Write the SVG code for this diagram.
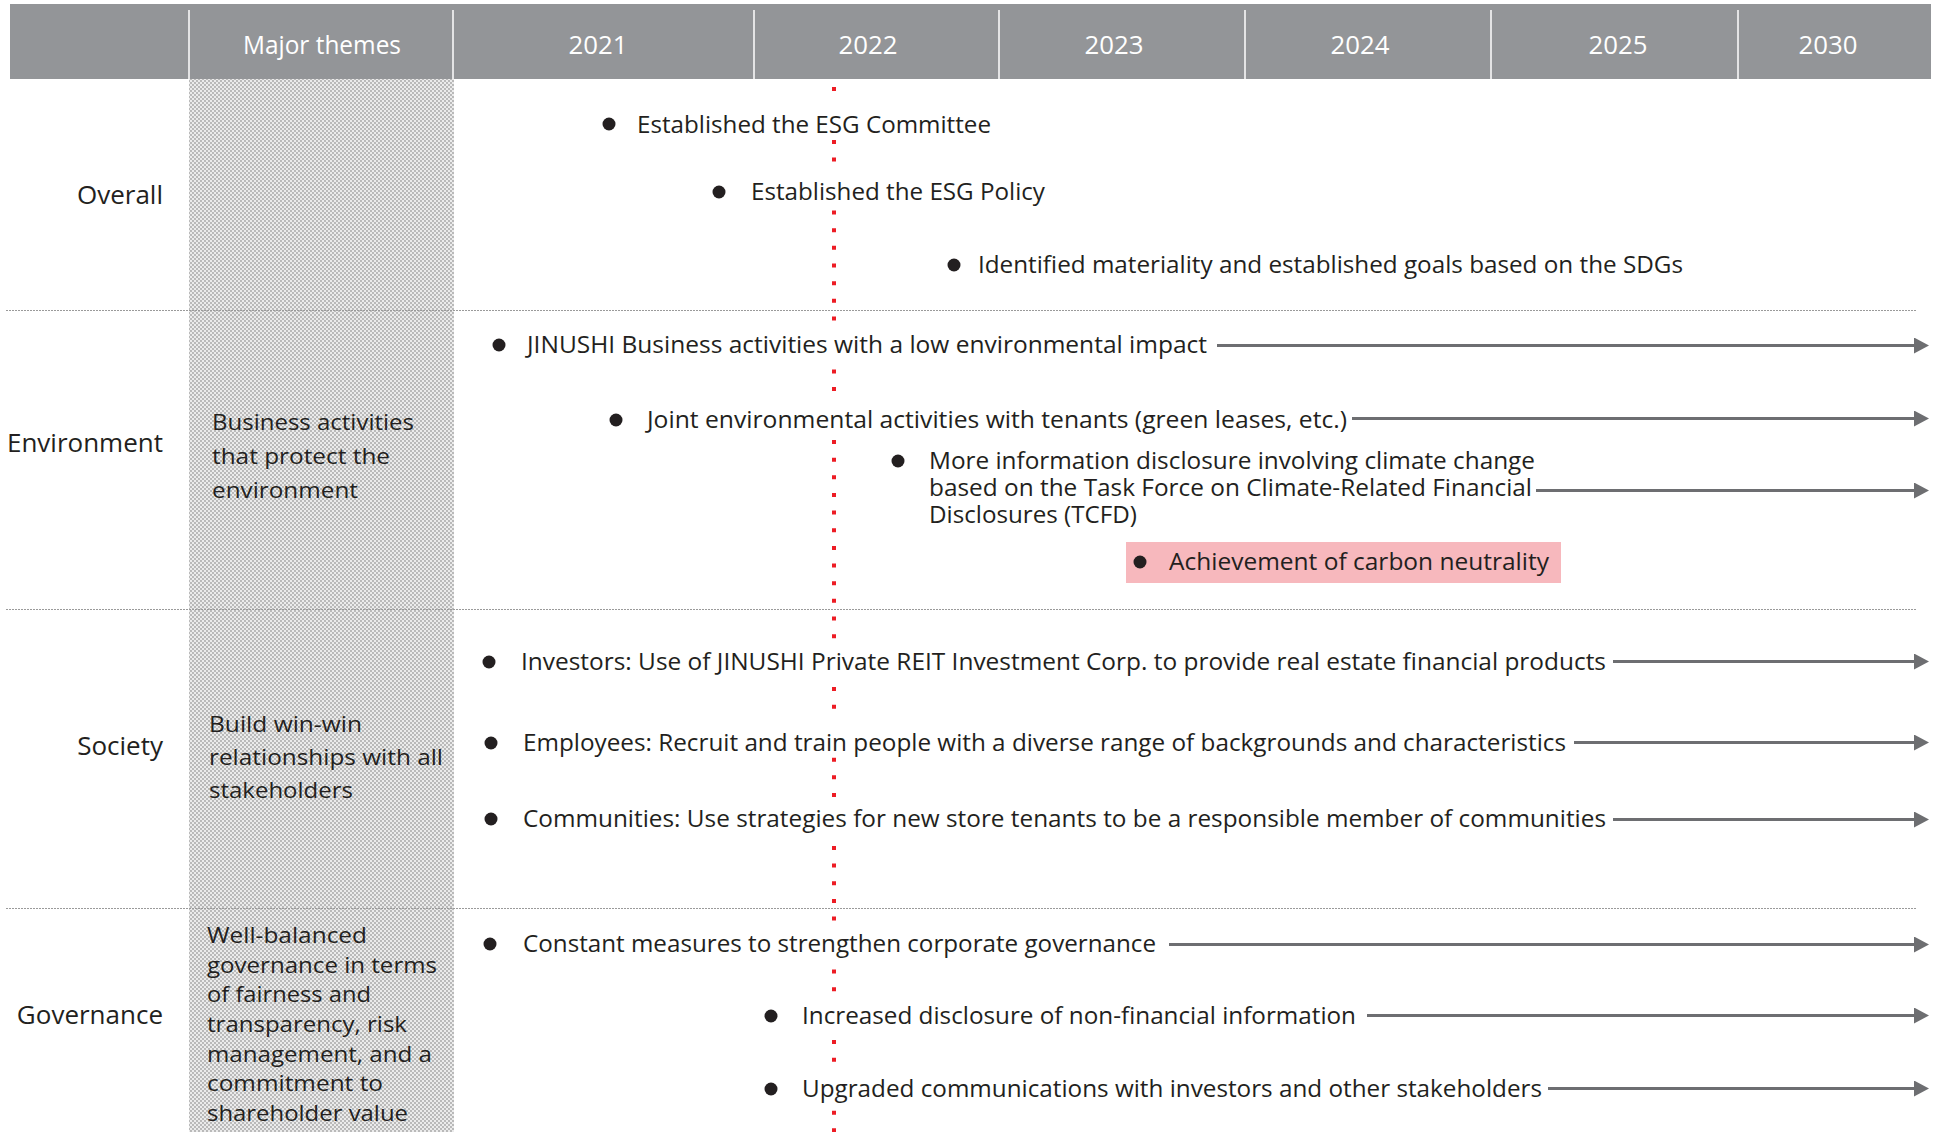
<svg xmlns="http://www.w3.org/2000/svg" width="1937" height="1132" viewBox="0 0 1937 1132">
<style>
.t{font-family:"Open Sans","Liberation Sans",sans-serif;fill:#231f20}
.main{font-size:23px}
.hdr{font-size:26px;fill:#ffffff;text-anchor:middle}
.row{font-size:26px;text-anchor:end}
.theme{font-size:22px}
.bul{fill:#231f20}
.mask{fill:#ffffff}
.arrow{stroke:#6d6e71;stroke-width:3;fill:none;marker-end:url(#ah)}
.sep{stroke:#9a9a9a;stroke-width:1;stroke-dasharray:2 1;fill:none}
.div{stroke:#ffffff;stroke-width:1.5}
</style>
<defs>
<pattern id="dots" x="0" y="0" width="4" height="4" patternUnits="userSpaceOnUse">
<rect width="4" height="4" fill="#ebebeb"/>
<circle cx="1" cy="1" r="0.9" fill="#a2a2a2"/>
<circle cx="3" cy="3" r="0.9" fill="#a2a2a2"/>
</pattern>
<marker id="ah" viewBox="0 -8 15 16" refX="0" refY="0" markerWidth="15" markerHeight="16" markerUnits="userSpaceOnUse" orient="auto">
<path d="M0,-8 L15,0 L0,8 Z" fill="#6d6e71"/>
</marker>
</defs>
<rect width="1937" height="1132" fill="#ffffff"/>

<!-- theme column background -->
<rect x="189" y="79" width="265" height="1053" fill="url(#dots)"/>

<!-- header -->
<g id="header">
<rect x="10" y="4" width="1921" height="75" fill="#939598"/>
<line class="div" x1="189" y1="10" x2="189" y2="79"/>
<line class="div" x1="453" y1="10" x2="453" y2="79"/>
<line class="div" x1="754" y1="10" x2="754" y2="79"/>
<line class="div" x1="999" y1="10" x2="999" y2="79"/>
<line class="div" x1="1245" y1="10" x2="1245" y2="79"/>
<line class="div" x1="1491" y1="10" x2="1491" y2="79"/>
<line class="div" x1="1738" y1="10" x2="1738" y2="79"/>
<text class="t hdr" x="322" y="54" textLength="158" lengthAdjust="spacingAndGlyphs">Major themes</text>
<text class="t hdr" x="598" y="54" textLength="59" lengthAdjust="spacingAndGlyphs">2021</text>
<text class="t hdr" x="868" y="54" textLength="59" lengthAdjust="spacingAndGlyphs">2022</text>
<text class="t hdr" x="1114" y="54" textLength="59" lengthAdjust="spacingAndGlyphs">2023</text>
<text class="t hdr" x="1360" y="54" textLength="59" lengthAdjust="spacingAndGlyphs">2024</text>
<text class="t hdr" x="1618" y="54" textLength="59" lengthAdjust="spacingAndGlyphs">2025</text>
<text class="t hdr" x="1828" y="54" textLength="59" lengthAdjust="spacingAndGlyphs">2030</text>
</g>

<!-- row separators -->
<g id="separators">
<line class="sep" x1="6" y1="310.5" x2="1916" y2="310.5"/>
<line class="sep" x1="6" y1="609.5" x2="1916" y2="609.5"/>
<line class="sep" x1="6" y1="908.5" x2="1916" y2="908.5"/>
</g>

<!-- row labels -->
<g id="row-overall"><text class="t row" x="163" y="204">Overall</text></g>
<g id="row-environment"><text class="t row" x="163" y="452">Environment</text></g>
<g id="row-society"><text class="t row" x="163" y="755">Society</text></g>
<g id="row-governance"><text class="t row" x="163" y="1024">Governance</text></g>

<!-- themes -->
<g id="theme-environment" class="t theme">
<text x="212" y="430" textLength="202" lengthAdjust="spacingAndGlyphs">Business activities</text>
<text x="212" y="464" textLength="178" lengthAdjust="spacingAndGlyphs">that protect the</text>
<text x="212" y="498" textLength="146" lengthAdjust="spacingAndGlyphs">environment</text>
</g>
<g id="theme-society" class="t theme">
<text x="209" y="732" textLength="153" lengthAdjust="spacingAndGlyphs">Build win-win</text>
<text x="209" y="765" textLength="234" lengthAdjust="spacingAndGlyphs">relationships with all</text>
<text x="209" y="798" textLength="144" lengthAdjust="spacingAndGlyphs">stakeholders</text>
</g>
<g id="theme-governance" class="t theme">
<text x="207" y="943" textLength="160" lengthAdjust="spacingAndGlyphs">Well-balanced</text>
<text x="207" y="973" textLength="230" lengthAdjust="spacingAndGlyphs">governance in terms</text>
<text x="207" y="1002" textLength="164" lengthAdjust="spacingAndGlyphs">of fairness and</text>
<text x="207" y="1032" textLength="200" lengthAdjust="spacingAndGlyphs">transparency, risk</text>
<text x="207" y="1062" textLength="225" lengthAdjust="spacingAndGlyphs">management, and a</text>
<text x="207" y="1091" textLength="176" lengthAdjust="spacingAndGlyphs">commitment to</text>
<text x="207" y="1121" textLength="201" lengthAdjust="spacingAndGlyphs">shareholder value</text>
</g>

<!-- 2022 timeline marker -->
<g id="timeline">
<line x1="834" y1="87" x2="834" y2="1132" stroke="#ed1c24" stroke-width="4" stroke-dasharray="4 13.65"/>
</g>

<!-- connectors -->
<g id="connectors">
<line class="arrow" x1="1217" y1="345.5" x2="1914" y2="345.5"/>
<line class="arrow" x1="1349" y1="418.5" x2="1914" y2="418.5"/>
<line class="arrow" x1="1536" y1="490.5" x2="1914" y2="490.5"/>
<line class="arrow" x1="1613" y1="661.5" x2="1914" y2="661.5"/>
<line class="arrow" x1="1574" y1="742.5" x2="1914" y2="742.5"/>
<line class="arrow" x1="1613" y1="819.5" x2="1914" y2="819.5"/>
<line class="arrow" x1="1169" y1="944.5" x2="1914" y2="944.5"/>
<line class="arrow" x1="1367" y1="1015.5" x2="1914" y2="1015.5"/>
<line class="arrow" x1="1548" y1="1088.5" x2="1914" y2="1088.5"/>
</g>

<!-- items -->
<g id="item-esg-committee">
<rect class="mask" x="630" y="104" width="365" height="35"/>
<circle class="bul" cx="609" cy="124" r="6.5"/>
<text class="t main" x="637" y="133" textLength="354" lengthAdjust="spacingAndGlyphs">Established the ESG Committee</text>
</g>
<g id="item-esg-policy">
<rect class="mask" x="745" y="171" width="304" height="35"/>
<circle class="bul" cx="719" cy="192" r="6.5"/>
<text class="t main" x="751" y="200" textLength="294" lengthAdjust="spacingAndGlyphs">Established the ESG Policy</text>
</g>
<g id="item-materiality">
<circle class="bul" cx="954" cy="265" r="6.5"/>
<text class="t main" x="978" y="273" textLength="705" lengthAdjust="spacingAndGlyphs">Identified materiality and established goals based on the SDGs</text>
</g>
<g id="item-low-impact">
<rect class="mask" x="520" y="324" width="692" height="35"/>
<circle class="bul" cx="499" cy="345" r="6.5"/>
<text class="t main" x="527" y="353" textLength="680" lengthAdjust="spacingAndGlyphs">JINUSHI Business activities with a low environmental impact</text>
</g>
<g id="item-green-leases">
<rect class="mask" x="640" y="400" width="712" height="35"/>
<circle class="bul" cx="616" cy="420" r="6.5"/>
<text class="t main" x="647" y="428" textLength="700" lengthAdjust="spacingAndGlyphs">Joint environmental activities with tenants (green leases, etc.)</text>
</g>
<g id="item-tcfd">
<circle class="bul" cx="898" cy="461" r="6.5"/>
<text class="t main" x="929" y="469" textLength="606" lengthAdjust="spacingAndGlyphs">More information disclosure involving climate change</text>
<text class="t main" x="929" y="496" textLength="603" lengthAdjust="spacingAndGlyphs">based on the Task Force on Climate-Related Financial</text>
<text class="t main" x="929" y="523" textLength="208" lengthAdjust="spacingAndGlyphs">Disclosures (TCFD)</text>
</g>
<g id="item-carbon-neutrality">
<rect x="1126" y="542" width="435" height="41" fill="#f7b8bd"/>
<circle class="bul" cx="1140" cy="562" r="6.5"/>
<text class="t main" x="1169" y="570" textLength="380" lengthAdjust="spacingAndGlyphs">Achievement of carbon neutrality</text>
</g>
<g id="item-investors">
<rect class="mask" x="515" y="641" width="1095" height="35"/>
<circle class="bul" cx="489" cy="662" r="6.5"/>
<text class="t main" x="521" y="670" textLength="1085" lengthAdjust="spacingAndGlyphs">Investors: Use of JINUSHI Private REIT Investment Corp. to provide real estate financial products</text>
</g>
<g id="item-employees">
<rect class="mask" x="515" y="722" width="1055" height="35"/>
<circle class="bul" cx="491" cy="743" r="6.5"/>
<text class="t main" x="523" y="751" textLength="1043" lengthAdjust="spacingAndGlyphs">Employees: Recruit and train people with a diverse range of backgrounds and characteristics</text>
</g>
<g id="item-communities">
<rect class="mask" x="515" y="798" width="1095" height="35"/>
<circle class="bul" cx="491" cy="819" r="6.5"/>
<text class="t main" x="523" y="827" textLength="1083" lengthAdjust="spacingAndGlyphs">Communities: Use strategies for new store tenants to be a responsible member of communities</text>
</g>
<g id="item-governance">
<rect class="mask" x="515" y="923" width="645" height="35"/>
<circle class="bul" cx="490" cy="944" r="6.5"/>
<text class="t main" x="523" y="952" textLength="633" lengthAdjust="spacingAndGlyphs">Constant measures to strengthen corporate governance</text>
</g>
<g id="item-nonfinancial">
<rect class="mask" x="795" y="995" width="565" height="35"/>
<circle class="bul" cx="771" cy="1016" r="6.5"/>
<text class="t main" x="802" y="1024" textLength="554" lengthAdjust="spacingAndGlyphs">Increased disclosure of non-financial information</text>
</g>
<g id="item-communications">
<rect class="mask" x="795" y="1068" width="750" height="35"/>
<circle class="bul" cx="771" cy="1089" r="6.5"/>
<text class="t main" x="802" y="1097" textLength="740" lengthAdjust="spacingAndGlyphs">Upgraded communications with investors and other stakeholders</text>
</g>
</svg>
